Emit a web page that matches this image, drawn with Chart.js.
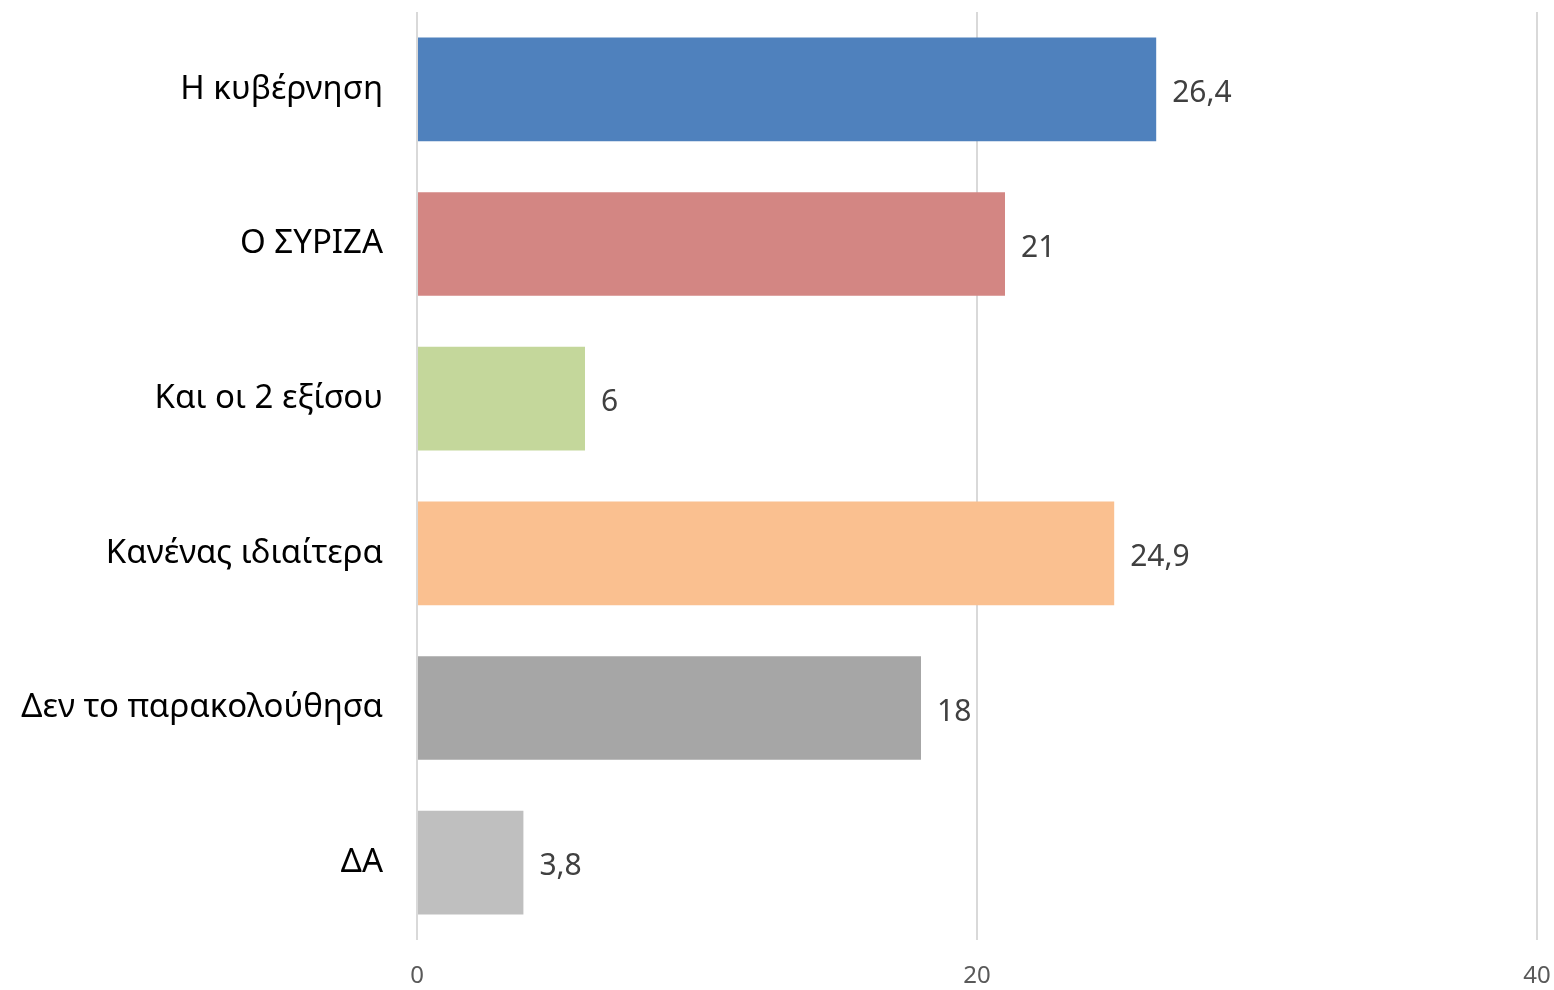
<!DOCTYPE html>
<html>
<head>
<meta charset="utf-8">
<script src="https://cdn.jsdelivr.net/npm/chart.js@4/dist/chart.umd.min.js"></script>
<style>
  html, body { margin: 0; padding: 0; background: #fff; }
  #wrap { width: 1554px; height: 990px; }
</style>
</head>
<body>
<div id="wrap"><canvas id="chart"></canvas></div>
<script>
const categories = ['Η κυβέρνηση', 'Ο ΣΥΡΙΖΑ', 'Και οι 2 εξίσου', 'Κανένας ιδιαίτερα', 'Δεν το παρακολούθησα', 'ΔΑ'];
const values = [26.4, 21, 6, 24.9, 18, 3.8];
const barColors = ['#4f81bd', '#d38683', '#c4d79b', '#fac090', '#a6a6a6', '#bfbfbf'];
const xTicks = [0, 20, 40];

const FONT = '"Noto Sans", "Open Sans", sans-serif';

// Draw value labels at the end of each bar
const valueLabels = {
  id: 'valueLabels',
  afterDatasetsDraw(chart) {
    const { ctx } = chart;
    const meta = chart.getDatasetMeta(0);
    ctx.save();
    ctx.font = `30px ${FONT}`;
    ctx.fillStyle = '#404040';
    ctx.textAlign = 'left';
    ctx.textBaseline = 'middle';
    meta.data.forEach((bar, i) => {
      const text = String(values[i]).replace('.', ',');
      ctx.fillText(text, bar.x + 16, bar.y + 4);
    });
    ctx.restore();
  },
};

new Chart(document.getElementById('chart'), {
  type: 'bar',
  data: {
    labels: categories,
    datasets: [
      {
        data: values,
        backgroundColor: barColors,
        borderWidth: 0,
        categoryPercentage: 0.67,
        barPercentage: 1,
      },
    ],
  },
  options: {
    indexAxis: 'y',
    responsive: true,
    maintainAspectRatio: false,
    animation: false,
    layout: { padding: { top: 12, right: 17, left: 0, bottom: 0 } },
    plugins: { legend: { display: false }, tooltip: { enabled: false } },
    scales: {
      x: {
        min: 0,
        max: 40,
        afterBuildTicks: (scale) => {
          scale.ticks = xTicks.map((v) => ({ value: v }));
        },
        afterFit: (scale) => {
          scale.height = 50;
          scale.paddingLeft = 0;
          scale.paddingRight = 0;
        },
        grid: { color: '#d9d9d9', lineWidth: 2, drawTicks: false },
        border: { display: false },
        ticks: {
          color: '#595959',
          font: { family: FONT, size: 24 },
          padding: 22,
        },
      },
      y: {
        afterFit: (scale) => {
          scale.width = 417;
          scale.paddingTop = 0;
          scale.paddingBottom = 0;
        },
        grid: { display: false },
        border: { display: false },
        ticks: {
          color: '#000000',
          font: { family: FONT, size: 33 },
          padding: 26,
        },
      },
    },
  },
  plugins: [valueLabels],
});
</script>
</body>
</html>
